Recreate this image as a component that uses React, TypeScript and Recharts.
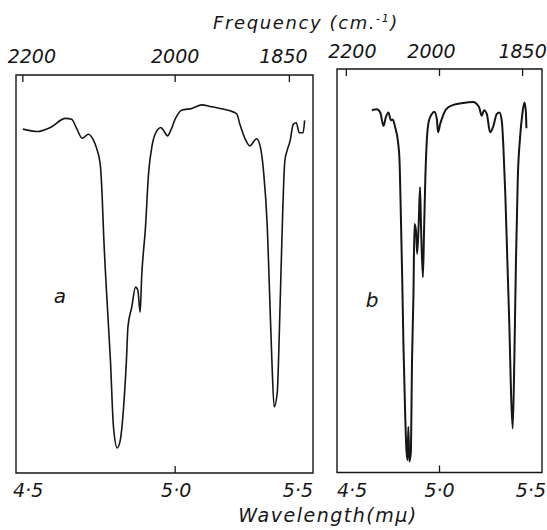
import React from 'react';
import { LineChart, Line, XAxis, YAxis, ReferenceArea } from 'recharts';

// Panel a: frequency (cm-1) vs transmittance (%)
const freqA = [2200, 2181, 2164, 2144, 2136, 2129, 2122, 2114, 2107, 2103, 2098, 2096, 2094, 2090, 2085, 2081, 2076, 2072, 2068, 2064, 2062, 2057, 2052, 2049, 2046, 2044, 2039, 2035, 2030, 2024, 2019, 2015, 2010, 2006, 2000, 1991, 1978, 1965, 1954, 1941, 1928, 1919, 1915, 1908, 1902, 1893, 1888, 1884, 1879, 1876, 1873, 1870, 1866, 1863, 1860, 1856, 1853, 1849, 1845, 1841, 1837, 1832, 1830];
const transA = [86.4, 85.8, 86.8, 89.1, 88.9, 86.4, 84.1, 85.1, 83.5, 81.5, 76.8, 70.2, 60.2, 45.1, 28.3, 11.6, 6.3, 8.3, 15.8, 28.3, 36.7, 41.7, 46.7, 45.9, 40.4, 49.2, 61.7, 75.1, 82.6, 86.0, 86.8, 86.0, 84.7, 86.0, 88.9, 91.2, 91.6, 92.5, 92.1, 91.6, 91.0, 90.2, 87.6, 83.9, 82.2, 84.0, 81.8, 75.9, 61.7, 45.1, 28.3, 16.6, 20.1, 36.7, 57.6, 78.4, 81.0, 83.5, 87.6, 88.0, 85.5, 85.5, 88.6];

// Panel b: wavelength (micron) vs transmittance (%)
const waveB = [4.670, 4.694, 4.711, 4.727, 4.738, 4.751, 4.763, 4.772, 4.784, 4.797, 4.805, 4.811, 4.818, 4.824, 4.832, 4.837, 4.844, 4.848, 4.853, 4.860, 4.866, 4.873, 4.878, 4.885, 4.891, 4.899, 4.905, 4.910, 4.919, 4.925, 4.931, 4.938, 4.948, 4.962, 4.975, 4.987, 4.993, 5.003, 5.014, 5.032, 5.068, 5.116, 5.165, 5.182, 5.194, 5.206, 5.217, 5.231, 5.247, 5.263, 5.279, 5.292, 5.304, 5.311, 5.321, 5.331, 5.341, 5.349, 5.357, 5.365, 5.373, 5.382, 5.393, 5.404, 5.414, 5.421, 5.424];
const transB = [89.8, 90.0, 89.2, 85.9, 88.0, 89.2, 87.3, 87.5, 85.5, 82.2, 77.3, 64.9, 48.4, 31.9, 15.5, 7.2, 3.1, 11.3, 2.7, 4.7, 27.8, 44.3, 61.6, 60.0, 54.2, 62.4, 70.7, 60.8, 48.4, 60.8, 73.1, 82.2, 87.1, 88.8, 89.4, 87.6, 84.3, 86.3, 88.0, 90.0, 91.1, 91.6, 91.8, 91.3, 90.4, 88.4, 89.8, 88.8, 84.3, 85.9, 88.8, 89.2, 87.1, 81.4, 69.0, 52.5, 36.0, 19.6, 10.9, 27.8, 52.5, 73.1, 83.0, 88.8, 91.7, 89.6, 85.3];

// Tick values / labels
const topFreqTicks = [2200, 2000, 1850];
const topFreqLabels = ['2200', '2000', '1850'];
const bottomWaveTicks = [4.5, 5.0, 5.5];
const bottomWaveLabels = ['4·5', '5·0', '5·5'];

// Axis ranges
const A_DOMAIN: [number, number] = [1819, 2209];
const B_DOMAIN: [number, number] = [4.5, 5.5];
const Y_DOMAIN: [number, number] = [0, 100];

const dataA = freqA.map((f, i) => ({ x: f, y: transA[i] }));
const dataB = waveB.map((w, i) => ({ x: w, y: transB[i] }));

const aBottomTicks = [A_DOMAIN[1], 2000, A_DOMAIN[0]];
const bTopTicks = topFreqTicks.map((f) => 10000 / f);

const FONT = '"DejaVu Sans", "Open Sans", sans-serif';
const INK = '#161616';

function TopTick(props: any) {
  const { x, y, index, labels, nudges, lift } = props;
  return (
    <g>
      <line x1={x} y1={y} x2={x} y2={y + 7} stroke={INK} strokeWidth={1.3} />
      <text
        x={x + nudges[index]}
        y={y - lift}
        textAnchor="middle"
        fontFamily={FONT}
        fontStyle="italic"
        fontSize={19}
        fill={INK}
      >
        {labels[index]}
      </text>
    </g>
  );
}

function BottomTick(props: any) {
  const { x, y, index, labels, anchors, dxs } = props;
  return (
    <g>
      {index === 1 && <line x1={x} y1={y} x2={x} y2={y - 7} stroke={INK} strokeWidth={1.3} />}
      <text
        x={x + dxs[index]}
        y={y + 24}
        textAnchor={anchors[index]}
        fontFamily={FONT}
        fontStyle="italic"
        fontSize={19}
        fill={INK}
      >
        {labels[index]}
      </text>
    </g>
  );
}

export default function App() {
  return (
    <div style={{ position: 'absolute', left: 0, top: 0, width: 547, height: 530, background: '#fff', overflow: 'hidden' }}>
      <div style={{ position: 'absolute', left: 0, top: 0 }}>
        <LineChart width={330} height={530} data={dataA} margin={{ top: 55, right: 17, bottom: 37, left: 16 }}>
          <YAxis yAxisId="v" domain={Y_DOMAIN} type="number" hide />
          <XAxis
            xAxisId="top"
            orientation="top"
            type="number"
            dataKey="x"
            domain={A_DOMAIN}
            reversed
            allowDataOverflow
            ticks={topFreqTicks}
            interval={0}
            height={20}
            axisLine={false}
            tickLine={false}
            tickSize={0}
            tickMargin={0}
            tick={<TopTick labels={topFreqLabels} nudges={[9, 0, -6]} lift={12} />}
          />
          <XAxis
            xAxisId="bottom"
            orientation="bottom"
            type="number"
            dataKey="x"
            domain={A_DOMAIN}
            reversed
            allowDataOverflow
            ticks={aBottomTicks}
            interval={0}
            height={20}
            axisLine={false}
            tickLine={false}
            tickSize={0}
            tickMargin={0}
            tick={<BottomTick labels={bottomWaveLabels} anchors={['start', 'middle', 'end']} dxs={[-3, 1, 0]} />}
          />
          <ReferenceArea
            xAxisId="bottom"
            yAxisId="v"
            x1={A_DOMAIN[0]}
            x2={A_DOMAIN[1]}
            y1={Y_DOMAIN[0]}
            y2={Y_DOMAIN[1]}
            fill="none"
            stroke={INK}
            strokeWidth={1.4}
          />
          <Line
            xAxisId="bottom"
            yAxisId="v"
            type="monotone"
            dataKey="y"
            stroke={INK}
            strokeWidth={1.6}
            dot={false}
            isAnimationActive={false}
          />
        </LineChart>
      </div>
      <div style={{ position: 'absolute', left: 320, top: 0 }}>
        <LineChart width={227} height={530} data={dataB} margin={{ top: 49, right: 5, bottom: 37.5, left: 17 }}>
          <YAxis yAxisId="v" domain={Y_DOMAIN} type="number" hide />
          <XAxis
            xAxisId="top"
            orientation="top"
            type="number"
            dataKey="x"
            domain={B_DOMAIN}
            allowDataOverflow
            ticks={bTopTicks}
            interval={0}
            height={20}
            axisLine={false}
            tickLine={false}
            tickSize={0}
            tickMargin={0}
            tick={<TopTick labels={topFreqLabels} nudges={[6, -8, 0]} lift={11} />}
          />
          <XAxis
            xAxisId="bottom"
            orientation="bottom"
            type="number"
            dataKey="x"
            domain={B_DOMAIN}
            allowDataOverflow
            ticks={bottomWaveTicks}
            interval={0}
            height={20}
            axisLine={false}
            tickLine={false}
            tickSize={0}
            tickMargin={0}
            tick={<BottomTick labels={bottomWaveLabels} anchors={['start', 'middle', 'end']} dxs={[0, 0, 4]} />}
          />
          <ReferenceArea
            xAxisId="bottom"
            yAxisId="v"
            x1={B_DOMAIN[0]}
            x2={B_DOMAIN[1]}
            y1={Y_DOMAIN[0]}
            y2={Y_DOMAIN[1]}
            fill="none"
            stroke={INK}
            strokeWidth={1.4}
          />
          <Line
            xAxisId="bottom"
            yAxisId="v"
            type="monotone"
            dataKey="y"
            stroke={INK}
            strokeWidth={2}
            dot={false}
            isAnimationActive={false}
          />
        </LineChart>
      </div>
      <svg width={547} height={530} style={{ position: 'absolute', left: 0, top: 0, pointerEvents: 'none' }}>
        <text x={306} y={29} textAnchor="middle" fontFamily={FONT} fontStyle="italic" fontSize={18} letterSpacing={1.6} fill={INK}>
          <tspan>Frequency (cm.</tspan>
          <tspan dy={-7} fontSize={11}>-1</tspan>
          <tspan dy={7}>)</tspan>
        </text>
        <text x={328} y={522} textAnchor="middle" fontFamily={FONT} fontStyle="italic" fontSize={19} letterSpacing={1.5} fill={INK}>
          Wavelength(mμ)
        </text>
        <text x={60} y={303} textAnchor="middle" fontFamily={FONT} fontStyle="italic" fontSize={20} fill={INK}>a</text>
        <text x={372} y={307} textAnchor="middle" fontFamily={FONT} fontStyle="italic" fontSize={20} fill={INK}>b</text>
      </svg>
    </div>
  );
}
